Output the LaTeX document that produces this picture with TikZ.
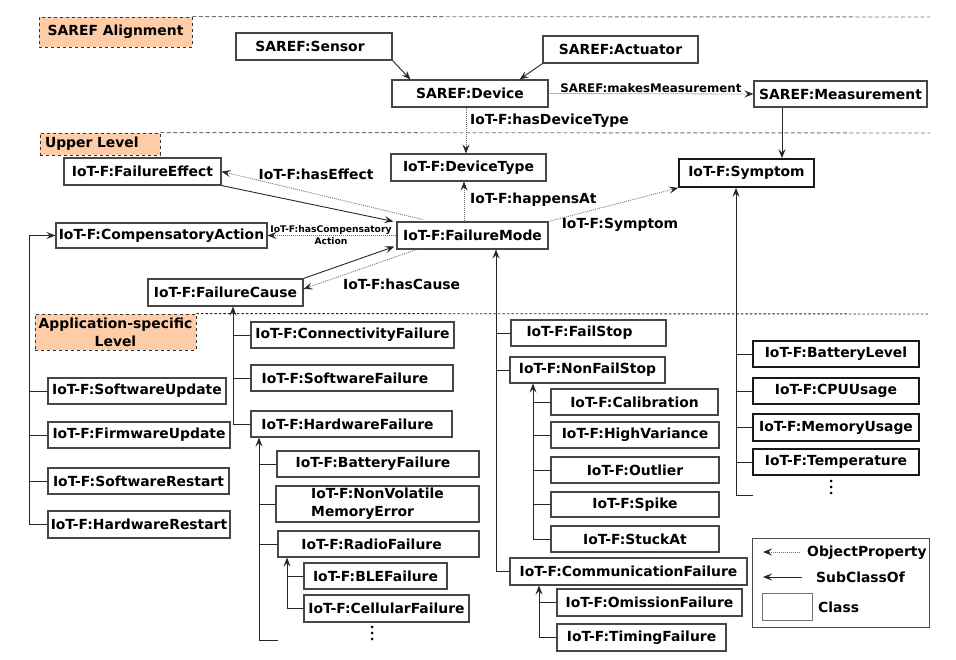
\documentclass[tikz,border=0pt]{standalone}
\usepackage{fontspec}
\setmainfont{DejaVu Sans}
\usetikzlibrary{arrows.meta,calc}
\definecolor{peach}{RGB}{255,204,168}
\definecolor{boxline}{RGB}{70,70,70}
\definecolor{dotline}{RGB}{110,110,110}
\tikzset{
  base/.style={font=\fontsize{13.9}{17}\selectfont\bfseries},
  cls/.style={base,draw=boxline,line width=1.1pt,fill=white,inner sep=0pt},
  clsthick/.style={draw=black!90,line width=1.7pt},
  level/.style={base,draw=black!80,dashed,line width=0.9pt,fill=peach,inner sep=0pt},
  sub/.style={-{Stealth[length=9pt,width=7pt,inset=3.5pt]},draw=black!85,line width=0.9pt},
  branch/.style={draw=black!85,line width=0.9pt},
  prop/.style={-{Stealth[length=9pt,width=7pt,inset=3.5pt,color=black!85]},draw=dotline,line width=0.8pt,dash pattern=on 1pt off 1pt},
  sepline/.style={draw=black!55,line width=0.9pt,dash pattern=on 4pt off 2.5pt},
  sepdots/.style={draw=black!85,line width=0.9pt,dash pattern=on 2.5pt off 2pt},
  elabel/.style={base,inner sep=1pt},
}
% class box from its corner coordinates: [opts]{name}{x1}{y1}{x2}{y2}{text}
\newcommand\klass[7][]{%
  \node[cls,#1,minimum width={(#5-#3)*1pt},minimum height={(#6-#4)*1pt}]
    (#2) at ({(#3+#5)/2},{(#4+#6)/2}) {#7};}
% vertical ellipsis made of three dots
\newcommand\vdotsat[2]{%
  \fill[black] (#1,#2-6) circle (1.5pt) (#1,#2) circle (1.5pt) (#1,#2+6) circle (1.5pt);}
\begin{document}
\begin{tikzpicture}[x=1pt,y=-1pt]
\useasboundingbox (0,0) rectangle (956,660);

% ---- level banners and separators
\node[level,minimum width=153pt,minimum height=30pt] (lvlA) at (115.5,32) {SAREF Alignment};
\node[level,text width=110pt,inner xsep=5pt,align=left,minimum height=22pt] (lvlU) at (100,144) {Upper Level};
\node[level,minimum width=161pt,minimum height=36pt,align=center,
      font=\fontsize{13.9}{18}\selectfont\bfseries] (lvlP) at (115.5,332) {Application-specific\\Level};
\coordinate (sepA) at (930,17);
\coordinate (sepU) at (930,133);
\coordinate (sepP) at (928,314);
\draw[sepline] (lvlA.north east) -- (sepA);
\draw[sepline] (lvlU.north east) -- (sepU);
\draw[sepdots] (lvlP.north east) -- (sepP);

% ---- SAREF classes
\klass{sensor}{236}{33}{392}{60}{SAREF:Sensor\hspace*{8pt}}
\klass{act}{543}{36}{698}{63}{SAREF:Actuator}
\klass{dev}{392}{80}{548}{107}{SAREF:Device}
\klass{meas}{754}{81}{927}{107}{SAREF:Measurement}

% ---- upper level classes
\klass{dt}{391}{154}{546}{181}{IoT-F:DeviceType}
\klass[clsthick]{sym}{679}{159}{814}{187}{IoT-F:Symptom}
\klass{fe}{64}{158}{221}{185}{IoT-F:FailureEffect}
\klass{ca}{56}{223}{267}{248}{IoT-F:CompensatoryAction}
\klass{fm}{397}{222}{548}{249}{IoT-F:FailureMode}
\klass{fc}{148}{279}{303}{306}{IoT-F:FailureCause}

% ---- application-specific classes
\klass{conn}{251}{322}{454}{348}{IoT-F:ConnectivityFailure}
\klass{swf}{251}{365}{453}{391}{IoT-F:SoftwareFailure\hspace*{14pt}}
\klass{hwf}{251}{411}{452}{437}{IoT-F:HardwareFailure\hspace*{8pt}}
\klass{bat}{277}{451}{479}{477}{IoT-F:BatteryFailure\hspace*{10pt}}
\klass[align=left,font=\fontsize{13.9}{18}\selectfont\bfseries]{nvm}{276}{486}{479}{522}{IoT-F:NonVolatile\\MemoryError\hspace*{12pt}}
\klass{radio}{278}{531}{479}{557}{IoT-F:RadioFailure\hspace*{14pt}}
\klass{ble}{304}{563}{447}{589}{IoT-F:BLEFailure}
\klass{cell}{304}{595}{469}{622}{IoT-F:CellularFailure}

\klass{su}{48}{378}{226}{404}{IoT-F:SoftwareUpdate}
\klass{fu}{48}{422}{230}{448}{IoT-F:FirmwareUpdate}
\klass{sr}{48}{468}{229}{494}{IoT-F:SoftwareRestart}
\klass{hr}{48}{511}{230}{538}{IoT-F:HardwareRestart}

\klass{fs}{511}{320}{666}{346}{IoT-F:FailStop\hspace*{18pt}}
\klass{nfs}{510}{357}{665}{383}{IoT-F:NonFailStop}
\klass{cal}{551}{389}{718}{415}{IoT-F:Calibration}
\klass{hv}{551}{422}{719}{448}{IoT-F:HighVariance}
\klass{out}{551}{457}{719}{483}{IoT-F:Outlier}
\klass{spk}{551}{492}{719}{517}{IoT-F:Spike}
\klass{stk}{551}{526}{719}{552}{IoT-F:StuckAt}
\klass{cf}{510}{558}{747}{585}{IoT-F:CommunicationFailure}
\klass{om}{557}{589}{742}{616}{IoT-F:OmissionFailure}
\klass{tim}{557}{624}{726}{651}{IoT-F:TimingFailure}

\klass[clsthick]{bl}{753}{341}{919}{367}{IoT-F:BatteryLevel}
\klass[clsthick]{cpu}{753}{378}{919}{404}{IoT-F:CPUUsage}
\klass[clsthick]{mem}{753}{414}{919}{441}{IoT-F:MemoryUsage}
\klass[clsthick]{temp}{753}{449}{919}{475}{IoT-F:Temperature}

\vdotsat{372}{633}
\vdotsat{831}{487}

% ---- SAREF relations
\draw[sub] (sensor.south east) -- ($(dev.north west)+(19,0)$);
\draw[sub] (act.south west) -- ($(dev.north east)+(-29,0)$);
\draw[prop] (dev.east) -- node[elabel,above,font=\fontsize{11.8}{14}\selectfont\bfseries] (lmm) {SAREF:makesMeasurement} (meas.west);
\coordinate (xDT) at (466,0);
\draw[prop] (dev.south -| xDT) -- (dt.north -| xDT);
\node[elabel,anchor=west] (lhdt) at (469,121) {IoT-F:hasDeviceType};
\coordinate (xMS) at (782,0);
\draw[sub] (meas.south -| xMS) -- (sym.north -| xMS);

% ---- upper level relations
\coordinate (xHA) at (464,0);
\draw[prop] (fm.north -| xHA) -- (dt.south -| xHA);
\node[elabel,anchor=west] (lha) at (469,200) {IoT-F:happensAt};
\draw[sub] (fe.south east) -- ($(fm.north west)+(-3,0)$);
\draw[prop] ($(fm.north west)+(26,-2)$) -- (fe.east);
\node[elabel] (lhe) at (316,174) {IoT-F:hasEffect};
\draw[prop] (fm.west) -- (ca.east);
\node[elabel,align=center,font=\fontsize{9.2}{12.5}\selectfont\bfseries] (lhca) at (331,235) {IoT-F:hasCompensatory\\Action};
\draw[sub] (fc.north east) -- ($(fm.south west)+(-2,-3)$);
\draw[prop] ($(fm.south west)+(20,0)$) -- ($(fc.east)+(0,-3.5)$);
\node[elabel,anchor=west] (lhc) at (342,284) {IoT-F:hasCause};
\draw[prop] (fm.north east) -- (sym.south west);
\node[elabel] (lsy) at (620,225) {IoT-F:Symptom};

% ---- subclass trees
\coordinate (tCA) at (29,0);
\draw[sub] (hr.west) -| (ca.west -| tCA) -- (ca.west);
\foreach \n in {su,fu,sr} \draw[branch] (\n.west) -- (\n.west -| tCA);

\coordinate (tFC) at (233,0);
\draw[sub] (hwf.west) -| (fc.south -| tFC);
\foreach \n in {conn,swf} \draw[branch] (\n.west) -- (\n.west -| tFC);

\coordinate (tHW) at (259,0);
\coordinate (hwEnd) at (278,640);
\draw[sub] (hwEnd) -| (hwf.south -| tHW);
\foreach \n in {bat,nvm,radio} \draw[branch] (\n.west) -- (\n.west -| tHW);

\coordinate (tRF) at (287,0);
\draw[sub] (cell.west) -| (radio.south -| tRF);
\draw[branch] (ble.west) -- (ble.west -| tRF);

\coordinate (tFM) at (496,0);
\draw[sub] (cf.west) -| (fm.south -| tFM);
\foreach \n in {fs,nfs} \draw[branch] (\n.west) -- (\n.west -| tFM);

\coordinate (tNF) at (533,0);
\draw[sub] (stk.west) -| (nfs.south -| tNF);
\foreach \n in {cal,hv,out,spk} \draw[branch] (\n.west) -- (\n.west -| tNF);

\coordinate (tCF) at (539,0);
\draw[sub] (tim.west) -| (cf.south -| tCF);
\draw[branch] (om.west) -- (om.west -| tCF);

\coordinate (tSy) at (736,0);
\coordinate (syEnd) at (753,495);
\draw[sub] (syEnd) -| (sym.south -| tSy);
\foreach \n in {bl,cpu,mem,temp} \draw[branch] (\n.west) -- (\n.west -| tSy);

% ---- legend
\node[draw=black!70,line width=0.9pt,minimum width=177pt,minimum height=89pt,inner sep=0pt] (legend) at (840.5,582.5) {};
\coordinate (lo1) at (800,552);
\coordinate (lo2) at (763,552);
\draw[prop] (lo1) -- (lo2);
\node[elabel,anchor=west] (lop) at (806,553) {ObjectProperty};
\coordinate (ls1) at (802,577);
\coordinate (ls2) at (763,577);
\draw[sub] (ls1) -- (ls2);
\node[elabel,anchor=west] (lsc) at (815,577) {SubClassOf};
\klass[draw=black!55,line width=0.9pt]{lcls}{762}{593}{812}{620}{}
\node[elabel,anchor=west] (lcl) at (817,607) {Class};
\end{tikzpicture}
\end{document}
